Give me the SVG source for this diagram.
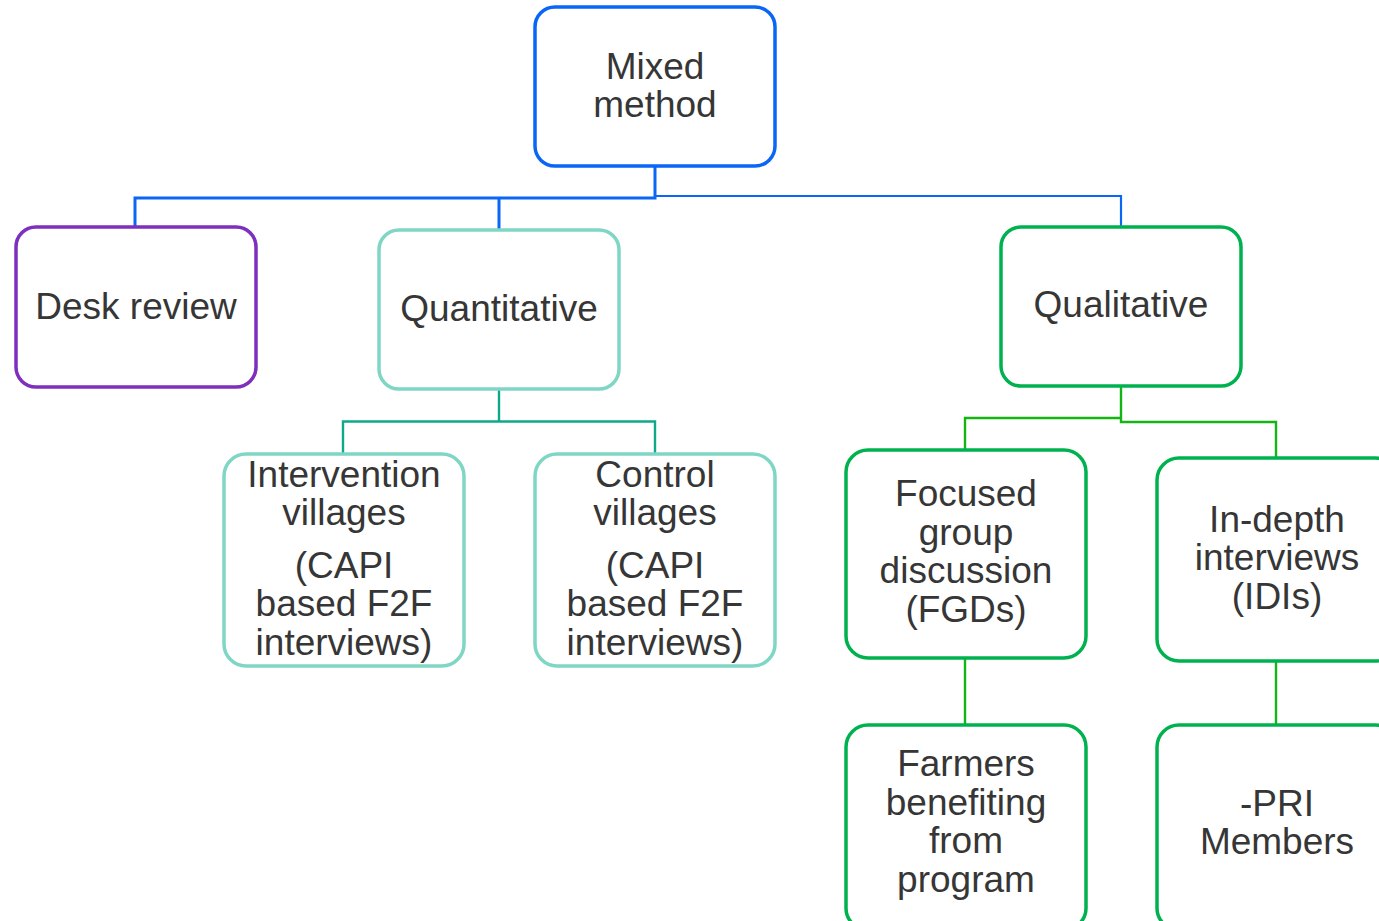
<svg xmlns="http://www.w3.org/2000/svg" width="1379" height="921" viewBox="0 0 1379 921">
<style>
.box{fill:#fff;stroke-width:3.5}
.blue{stroke:#0a66f5}
.purple{stroke:#7e2fbe}
.teal{stroke:#7fd6c5}
.green{stroke:#00b24f}
.t{font-family:"Liberation Sans",Arial,sans-serif;font-size:37px;fill:#363636;text-anchor:middle}
.c{fill:none}
</style>
<rect x="0" y="0" width="1379" height="921" fill="#fff"/>
<g id="connectors" class="c">
<path d="M655,166 V198 H135 V227 M499,198 V230" stroke="#0a66f5" stroke-width="3" fill="none"/>
<path d="M655,196 H1121 V227" stroke="#0a66f5" stroke-width="2.2" fill="none"/>
<path d="M499,389 V421.5 H343 V454 M499,421.5 H655 V454" stroke="#0fa88b" stroke-width="2.4" fill="none"/>
<path d="M1121,386 V418 H965 V450 M1121,418 V422 H1276 V458 M965,658 V725 M1276,661 V725" stroke="#12b512" stroke-width="2.4" fill="none"/>
</g>
<g id="mixed">
<rect class="box blue" x="535" y="7" width="240" height="159" rx="20"/>
<text class="t" x="655" y="79">Mixed</text>
<text class="t" x="655" y="117">method</text>
</g>
<g id="desk">
<rect class="box purple" x="16" y="227" width="240" height="160" rx="20"/>
<text class="t" x="136" y="319">Desk review</text>
</g>
<g id="quant">
<rect class="box teal" x="379" y="230" width="240" height="159" rx="20"/>
<text class="t" x="499" y="321">Quantitative</text>
</g>
<g id="qual">
<rect class="box green" x="1001" y="227" width="240" height="159" rx="20"/>
<text class="t" x="1121" y="317">Qualitative</text>
</g>
<g id="intervention">
<rect class="box teal" x="224" y="454" width="240" height="212" rx="22"/>
<text class="t" x="344" y="487">Intervention</text>
<text class="t" x="344" y="525">villages</text>
<text class="t" x="344" y="578">(CAPI</text>
<text class="t" x="344" y="616">based F2F</text>
<text class="t" x="344" y="655">interviews)</text>
</g>
<g id="control">
<rect class="box teal" x="535" y="454" width="240" height="212" rx="22"/>
<text class="t" x="655" y="487">Control</text>
<text class="t" x="655" y="525">villages</text>
<text class="t" x="655" y="578">(CAPI</text>
<text class="t" x="655" y="616">based F2F</text>
<text class="t" x="655" y="655">interviews)</text>
</g>
<g id="fgd">
<rect class="box green" x="846" y="450" width="240" height="208" rx="22"/>
<text class="t" x="966" y="506">Focused</text>
<text class="t" x="966" y="545">group</text>
<text class="t" x="966" y="583">discussion</text>
<text class="t" x="966" y="622">(FGDs)</text>
</g>
<g id="idi">
<rect class="box green" x="1157" y="458" width="240" height="203" rx="22"/>
<text class="t" x="1277" y="532">In-depth</text>
<text class="t" x="1277" y="570">interviews</text>
<text class="t" x="1277" y="609">(IDIs)</text>
</g>
<g id="farmers">
<rect class="box green" x="846" y="725" width="240" height="205" rx="22"/>
<text class="t" x="966" y="776">Farmers</text>
<text class="t" x="966" y="815">benefiting</text>
<text class="t" x="966" y="853">from</text>
<text class="t" x="966" y="892">program</text>
</g>
<g id="pri">
<rect class="box green" x="1157" y="725" width="240" height="205" rx="22"/>
<text class="t" x="1277" y="816">-PRI</text>
<text class="t" x="1277" y="854">Members</text>
</g>
</svg>
